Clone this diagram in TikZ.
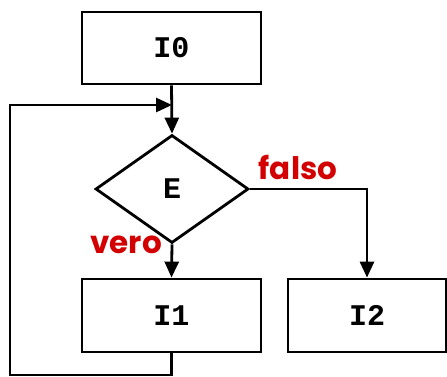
\documentclass[tikz,border=0pt]{standalone}
\usepackage{fontspec}
\usetikzlibrary{arrows.meta,shapes.geometric}
\newfontfamily\codefont{Liberation Mono}
\newfontfamily\tagfont{Poppins}
\definecolor{tagred}{RGB}{210,0,0}
\tikzset{
  flow/.style={line width=2.8pt},
  instr/.style={draw, flow, rectangle, inner sep=0pt,
    font=\codefont\bfseries\fontsize{30}{30}\selectfont},
  test/.style={draw, flow, diamond, inner sep=0pt, aspect=1.42,
    minimum width=153pt, minimum height=108pt,
    font=\codefont\bfseries\fontsize{30}{30}\selectfont},
  tip/.style={-{Triangle[length=16pt,width=14pt]}},
  branch/.style={text=tagred, font=\tagfont\bfseries\fontsize{31}{31}\selectfont}
}
\begin{document}
\begin{tikzpicture}[x=1pt, y=-1pt]
  \useasboundingbox (0,0) rectangle (447,377);
  % statements and the test
  \node[instr, minimum width=179pt, minimum height=72pt] (i0) at (171.5,48) {I0};
  \node[test] (e) at (172,189) {E};
  \node[instr, minimum width=179pt, minimum height=73pt] (i1) at (171.5,315.5) {I1};
  \node[instr, minimum width=158pt, minimum height=73pt] (i2) at (367,315.5) {I2};
  % branch labels
  \node[branch] (falso) at (298,167) {falso};
  \node[branch] (vero) at (126,245) {vero};
  % loop back path
  \coordinate (lb) at (10,375);
  \coordinate (lt) at (10,105);
  \coordinate (lj) at (172,105);
  % connectors
  \draw[flow, tip] (i0.south) -- (e.north);
  \draw[flow, tip] (e.east) -| (i2.north);
  \draw[flow, tip] (e.south) -- (i1.north);
  \draw[flow, tip, line join=miter] (i1.south) |- (lb) -- (lt) -- (lj);
\end{tikzpicture}
\end{document}
